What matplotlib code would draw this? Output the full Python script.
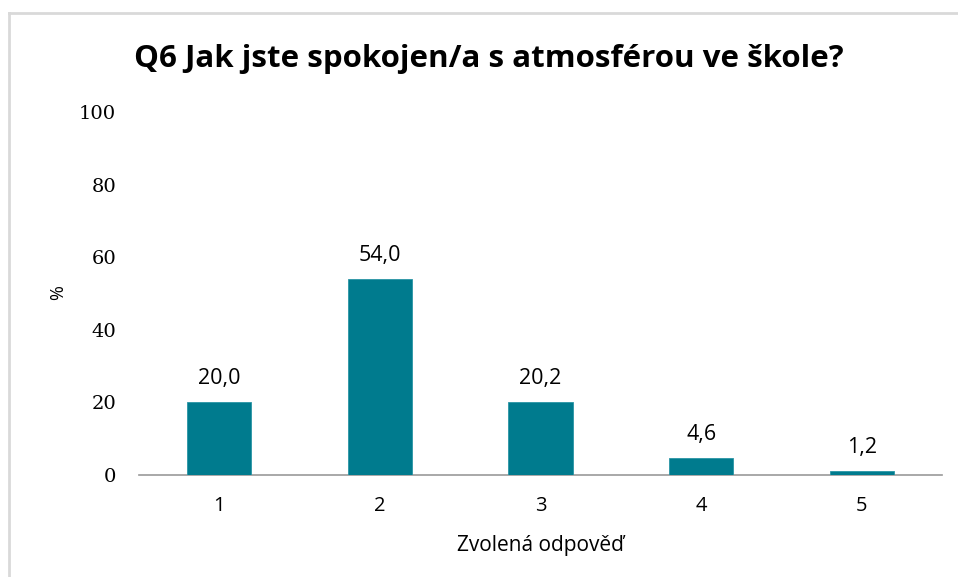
import matplotlib
matplotlib.use("Agg")
import matplotlib.pyplot as plt
from matplotlib.lines import Line2D

categories = ["1", "2", "3", "4", "5"]
values = [20.0, 54.0, 20.2, 4.6, 1.2]
labels = ["20,0", "54,0", "20,2", "4,6", "1,2"]
yticks = [0, 20, 40, 60, 80, 100]

W, H = 958, 577
SANS = "Open Sans"
fig = plt.figure(figsize=(W/100, H/100), dpi=100)
ax = fig.add_axes([139/W, 1-475/H, (942-139)/W, (475-112)/H])

x = list(range(len(categories)))
ax.bar(x, values, width=0.4, color="#007B8E", edgecolor="#2a95a5", linewidth=0.6, zorder=3)
ax.set_xlim(-0.5, 4.5)
ax.set_ylim(0, 100)
ax.set_yticks(yticks)
ax.set_yticklabels([str(t) for t in yticks], fontfamily="DejaVu Serif", fontsize=14)
ax.set_xticks(x)
ax.set_xticklabels(categories, fontfamily=SANS, fontsize=14.5)
ax.tick_params(axis="both", length=0, colors="black")
ax.tick_params(axis="y", pad=16.5)
ax.tick_params(axis="x", pad=15)
for s in ["top", "right", "left"]:
    ax.spines[s].set_visible(False)
ax.spines["bottom"].set_color("#999999")
ax.spines["bottom"].set_linewidth(1.2)

for xi, v, lab in zip(x, values, labels):
    ax.annotate(lab, (xi, v), xytext=(0, 13), textcoords="offset points",
                ha="center", va="baseline", fontfamily=SANS, fontsize=15.5)

ax.set_xlabel("Zvolená odpověď", fontfamily=SANS, fontsize=15, labelpad=14)
fig.text(58/W, 1-293/H, "%", rotation=90, ha="center", va="center",
         fontfamily=SANS, fontsize=13)
fig.text(488.5/W, 1-67/H, "Q6 Jak jste spokojen/a s atmosférou ve škole?",
         ha="center", va="baseline", fontfamily=SANS, fontweight="bold", fontsize=22.5)

fig.add_artist(Line2D([9/W, 9/W], [0, 1-13/H], transform=fig.transFigure, color="#d9d9d9", lw=2))
fig.add_artist(Line2D([9/W, 1], [1-13/H, 1-13/H], transform=fig.transFigure, color="#d9d9d9", lw=2))

fig.savefig("out.png", dpi=100)
